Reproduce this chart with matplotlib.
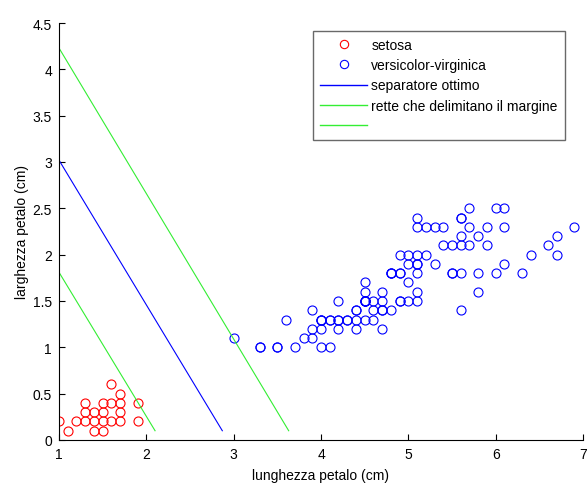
import matplotlib
matplotlib.use("Agg")
from matplotlib import pyplot as plt
from matplotlib.lines import Line2D

plt.rcParams['font.family'] = ['Liberation Sans', 'DejaVu Sans']
plt.rcParams['font.size'] = 10

# petal length / width (cm), iris dataset
setosa_len = [1.0, 1.1, 1.2, 1.3, 1.3, 1.3, 1.4, 1.4, 1.4, 1.5, 1.5, 1.5, 1.5,
              1.6, 1.6, 1.6, 1.7, 1.7, 1.7, 1.7, 1.9, 1.9]
setosa_wid = [0.2, 0.1, 0.2, 0.2, 0.3, 0.4, 0.1, 0.2, 0.3, 0.1, 0.2, 0.3, 0.4,
              0.2, 0.4, 0.6, 0.2, 0.3, 0.4, 0.5, 0.2, 0.4]

vv_len = [4.7, 4.5, 4.9, 4.0, 4.6, 4.5, 4.7, 3.3, 4.6, 3.9, 3.5, 4.2, 4.0, 4.7,
          3.6, 4.4, 4.5, 4.1, 4.5, 3.9, 4.8, 4.0, 4.9, 4.7, 4.3, 4.4, 4.8, 5.0,
          4.5, 3.5, 3.8, 3.7, 3.9, 5.1, 4.5, 4.5, 4.7, 4.4, 4.1, 4.0, 4.4, 4.6,
          4.0, 3.3, 4.2, 4.2, 4.2, 4.3, 3.0, 4.1,
          6.0, 5.1, 5.9, 5.6, 5.8, 6.6, 4.5, 6.3, 5.8, 6.1, 5.1, 5.3, 5.5, 5.0,
          5.1, 5.3, 5.5, 6.7, 6.9, 5.0, 5.7, 4.9, 6.7, 4.9, 5.7, 6.0, 4.8, 4.9,
          5.6, 5.8, 6.1, 6.4, 5.6, 5.1, 5.6, 6.1, 5.6, 5.5, 4.8, 5.4, 5.6, 5.1,
          5.1, 5.9, 5.7, 5.2, 5.0, 5.2, 5.4, 5.1]
vv_wid = [1.4, 1.5, 1.5, 1.3, 1.5, 1.3, 1.6, 1.0, 1.3, 1.4, 1.0, 1.5, 1.0, 1.4,
          1.3, 1.4, 1.5, 1.0, 1.5, 1.1, 1.8, 1.3, 1.5, 1.2, 1.3, 1.4, 1.4, 1.7,
          1.5, 1.0, 1.1, 1.0, 1.2, 1.6, 1.5, 1.6, 1.5, 1.3, 1.3, 1.3, 1.2, 1.4,
          1.2, 1.0, 1.3, 1.2, 1.3, 1.3, 1.1, 1.3,
          2.5, 1.9, 2.1, 1.8, 2.2, 2.1, 1.7, 1.8, 1.8, 2.5, 2.0, 1.9, 2.1, 2.0,
          2.4, 2.3, 1.8, 2.2, 2.3, 1.5, 2.3, 2.0, 2.0, 1.8, 2.1, 1.8, 1.8, 1.8,
          2.1, 1.6, 1.9, 2.0, 2.2, 1.5, 1.4, 2.3, 2.4, 1.8, 1.8, 2.1, 2.4, 2.3,
          1.9, 2.3, 2.5, 2.3, 1.9, 2.0, 2.3, 1.8]

# separator and margin lines (endpoints)
sep_x = [1.0, 2.87]
sep_y = [3.02, 0.1]
low_x = [1.0, 2.10]
low_y = [1.81, 0.1]
high_x = [1.0, 3.63]
high_y = [4.23, 0.1]

xticks = [1, 2, 3, 4, 5, 6, 7]
yticks = [0, 0.5, 1, 1.5, 2, 2.5, 3, 3.5, 4, 4.5]
ytick_labels = ['0', '0.5', '1', '1.5', '2', '2.5', '3', '3.5', '4', '4.5']

green = '#33ee33'

fig = plt.figure(figsize=(5.88, 4.85), dpi=100)
ax = fig.add_axes([59/588, 1 - 441/485, 524/588, 417/485])

ax.plot(setosa_len, setosa_wid, 'o', mfc='none', mec='red', ms=6.5, mew=0.8)
ax.plot(vv_len, vv_wid, 'o', mfc='none', mec='blue', ms=6.5, mew=0.8)
ax.plot(sep_x, sep_y, color='blue', lw=0.8)
ax.plot(low_x, low_y, color=green, lw=0.8)
ax.plot(high_x, high_y, color=green, lw=0.8)

ax.set_xlim(1, 7)
ax.set_ylim(0, 4.5)
ax.set_xticks(xticks)
ax.set_xticklabels([str(t) for t in xticks])
ax.set_yticks(yticks)
ax.set_yticklabels(ytick_labels)
ax.tick_params(direction='in', length=4, width=0.8, pad=5)
ax.spines['top'].set_visible(False)
ax.spines['right'].set_visible(False)
ax.set_xlabel('lunghezza petalo (cm)', labelpad=5)
ax.set_ylabel('larghezza petalo (cm)', labelpad=3)

handles = [
    Line2D([], [], ls='none', marker='o', mfc='none', mec='red', ms=6, mew=0.8),
    Line2D([], [], ls='none', marker='o', mfc='none', mec='blue', ms=6, mew=0.8),
    Line2D([], [], color='blue', lw=1),
    Line2D([], [], color=green, lw=1),
    Line2D([], [], color=green, lw=1),
]
labels = ['setosa', 'versicolor-virginica', 'separatore ottimo',
          'rette che delimitano il margine', '']
leg = ax.legend(handles, labels, loc='upper left',
                bbox_to_anchor=(313/588, 1 - 32/485), bbox_transform=fig.transFigure,
                borderaxespad=0, fancybox=False, handlelength=3.4,
                handletextpad=0.3, labelspacing=0.45, borderpad=0.5)
leg.get_frame().set_edgecolor('#444444')
leg.get_frame().set_linewidth(1.0)

fig.savefig('out.png', dpi=100)
